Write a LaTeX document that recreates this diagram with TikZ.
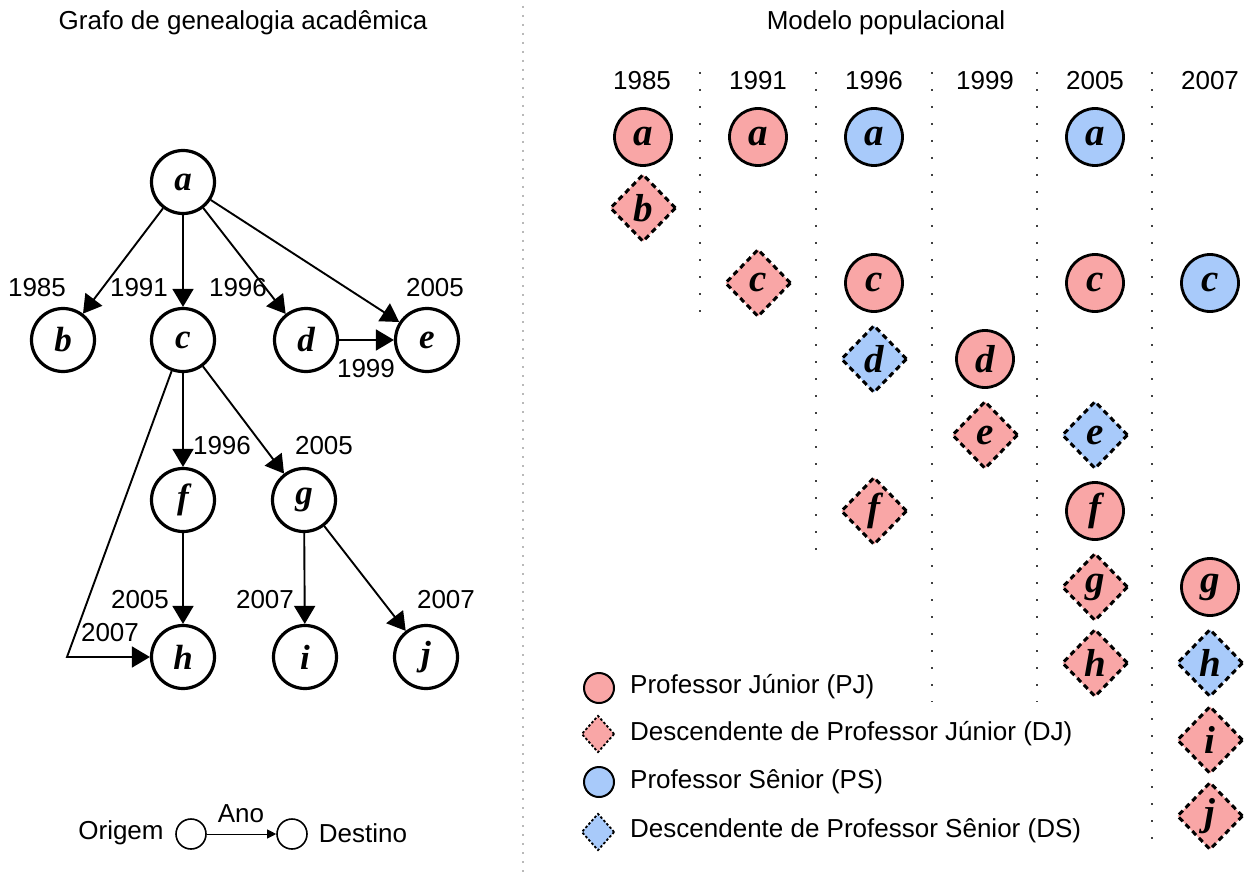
\documentclass[tikz,border=0pt]{standalone}
\usepackage{fontspec}
\setmainfont{Liberation Sans}
\newfontfamily\lfont{Liberation Serif}
\usetikzlibrary{shapes.geometric,arrows.meta}
\definecolor{pj}{RGB}{249,166,166}
\definecolor{ps}{RGB}{168,202,250}
\begin{document}
\begin{tikzpicture}[x=1pt,y=-1pt,
  gnode/.style={circle, draw, line width=3.2pt, minimum size=63pt, inner sep=0pt,
    font=\lfont\bfseries\itshape\fontsize{35}{35}\selectfont},
  pnode/.style={circle, draw, line width=2.8pt, minimum size=57pt, inner sep=0pt,
    font=\lfont\bfseries\itshape\fontsize{39}{39}\selectfont},
  dnode/.style={diamond, draw, line width=3pt, dash pattern=on 5.5pt off 4pt,
    minimum width=66pt, minimum height=68pt, inner sep=0pt,
    font=\lfont\bfseries\itshape\fontsize{39}{39}\selectfont},
  pjc/.style={pnode, fill=pj},
  psc/.style={pnode, fill=ps},
  djd/.style={dnode, fill=pj},
  dsd/.style={dnode, fill=ps},
  lbl/.style={inner sep=0pt, font=\fontsize{26}{26}\selectfont},
  arr/.style={line width=1.9pt, -{Triangle[length=18pt,width=21pt]}},
  sep/.style={line width=2pt, black!75, dash pattern=on 1.8pt off 15.2pt},
]
\useasboundingbox (0,0) rectangle (1249,877);
\fill[white] (0,0) rectangle (1249,877);

% titles
\node[lbl] (t1) at (243,23) {Grafo de genealogia acadêmica};
\node[lbl] (t2) at (886,23) {Modelo populacional};

% divider
\draw[gray!55, line width=2pt, dash pattern=on 2pt off 7pt] (523,6) -- (523,877);

% ---------- left graph ----------
\node[gnode] (a) at (183,182) {a};
\node[gnode] (b) at (63,340) {b};
\node[gnode] (c) at (183,340) {c};
\node[gnode] (d) at (306,340) {d};
\node[gnode] (e) at (427,340) {e};
\node[gnode] (f) at (183,500) {f};
\node[gnode] (g) at (304,500) {g};
\node[gnode] (h) at (183,657) {h};
\node[gnode] (i) at (305,657) {i};
\node[gnode] (j) at (426,657) {j};
\coordinate (bend) at (67,657);

\draw[arr] (a) -- (b);
\draw[arr] (a) -- (c);
\draw[arr] (a) -- (d);
\draw[arr] (a) -- (e);
\draw[arr] (d) -- (e);
\draw[arr] (c) -- (f);
\draw[arr] (c) -- (g);
\draw[arr] (f) -- (h);
\draw[arr] (c) -- (bend) -- (h);
\draw[arr] (g) -- (i);
\draw[arr] (g) -- (j);

\node[lbl] (lab) at (37,288) {1985};
\node[lbl] (lac) at (139,288) {1991};
\node[lbl] (lad) at (238,288) {1996};
\node[lbl] (lae) at (435,288) {2005};
\node[lbl] (lde) at (366,369) {1999};
\node[lbl] (lcf) at (222,446) {1996};
\node[lbl] (lcg) at (324,446) {2005};
\node[lbl] (lfh) at (140,600) {2005};
\node[lbl] (lch) at (110,633) {2007};
\node[lbl] (lgi) at (265,600) {2007};
\node[lbl] (lgj) at (446,600) {2007};

% small legend
\node[lbl] (orig) at (121,833) {Origem};
\node[circle, draw, line width=1.6pt, minimum size=30pt, inner sep=0pt] (lo) at (191,834) {};
\node[circle, draw, line width=1.6pt, minimum size=30pt, inner sep=0pt] (ld) at (292,834) {};
\node[lbl] (dest) at (363,833) {Destino};
\draw[line width=1pt, -{Triangle[length=9pt,width=9pt]}] (lo) -- (ld);
\node[lbl] (ano) at (241,814) {Ano};

% ---------- population model ----------
\node[lbl] (y1) at (642,81) {1985};
\node[lbl] (y2) at (758,81) {1991};
\node[lbl] (y3) at (874,81) {1996};
\node[lbl] (y4) at (985,81) {1999};
\node[lbl] (y5) at (1095,81) {2005};
\node[lbl] (y6) at (1210,81) {2007};

\draw[sep] (700,72) -- (700,324);
\draw[sep] (816,72) -- (816,550);
\draw[sep] (932,72) -- (932,702);
\draw[sep] (1037,72) -- (1037,702);
\draw[sep] (1152,72) -- (1152,853);

% 1985
\node[pjc] (p1a) at (643,137) {a};
\node[djd] (p1b) at (643,208) {b};
% 1991
\node[pjc] (p2a) at (758,137) {a};
\node[djd] (p2c) at (758,283) {c};
% 1996
\node[psc] (p3a) at (874,137) {a};
\node[pjc] (p3c) at (874,283) {c};
\node[dsd] (p3d) at (874,359) {d};
\node[djd] (p3f) at (874,511) {f};
% 1999
\node[pjc] (p4d) at (985,359) {d};
\node[djd] (p4e) at (985,435) {e};
% 2005
\node[psc] (p5a) at (1095,137) {a};
\node[pjc] (p5c) at (1095,283) {c};
\node[dsd] (p5e) at (1095,435) {e};
\node[pjc] (p5f) at (1095,511) {f};
\node[djd] (p5g) at (1095,587) {g};
\node[djd] (p5h) at (1095,663) {h};
% 2007
\node[psc] (p6c) at (1210,283) {c};
\node[pjc] (p6g) at (1210,587) {g};
\node[dsd] (p6h) at (1210,663) {h};
\node[djd] (p6i) at (1210,740) {i};
\node[djd] (p6j) at (1210,816) {j};

% legend
\tikzset{
  lgc/.style={circle, draw, line width=2pt, minimum size=30pt, inner sep=0pt},
  lgd/.style={diamond, draw, line width=1.8pt, dash pattern=on 2.5pt off 2pt,
    minimum width=33pt, minimum height=37pt, inner sep=0pt},
}
\node[lgc, fill=pj] (k1) at (599,688) {};
\node[lgd, fill=pj] (k2) at (598,734) {};
\node[lgc, fill=ps] (k3) at (599,782) {};
\node[lgd, fill=ps] (k4) at (598,832) {};
\node[lbl, anchor=west] (k1t) at (630,687) {Professor Júnior (PJ)};
\node[lbl, anchor=west] (k2t) at (630,734) {Descendente de Professor Júnior (DJ)};
\node[lbl, anchor=west] (k3t) at (630,782) {Professor Sênior (PS)};
\node[lbl, anchor=west] (k4t) at (630,831) {Descendente de Professor Sênior (DS)};
\end{tikzpicture}
\end{document}
